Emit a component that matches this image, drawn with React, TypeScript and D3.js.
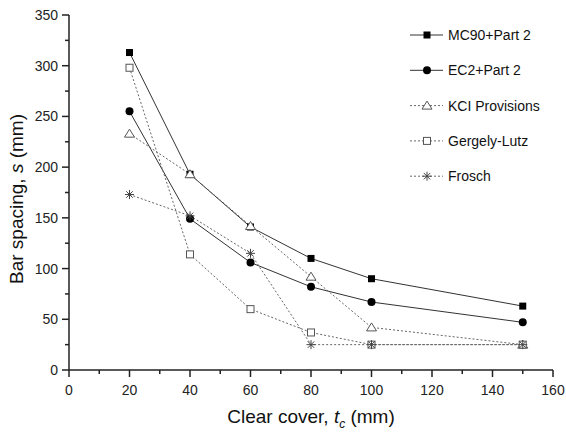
import React from "react";
import * as d3 from "d3";

const covers = [20, 40, 60, 80, 100, 150];
const mc90 = [313, 193, 141, 110, 90, 63];
const ec2 = [255, 149, 106, 82, 67, 47];
const kci = [233, 193, 142, 92, 42, 25];
const gergely = [298, 114, 60, 37, 25, 25];
const frosch = [173, 152, 115, 25, 25, 25];
const xTicks = [0, 20, 40, 60, 80, 100, 120, 140, 160];
const yTicks = [0, 50, 100, 150, 200, 250, 300, 350];

type Marker = "square" | "circle" | "triangle" | "squareOpen" | "star";

const series: { name: string; values: number[]; marker: Marker; dotted: boolean }[] = [
  { name: "MC90+Part 2", values: mc90, marker: "square", dotted: false },
  { name: "EC2+Part 2", values: ec2, marker: "circle", dotted: false },
  { name: "KCI Provisions", values: kci, marker: "triangle", dotted: true },
  { name: "Gergely-Lutz", values: gergely, marker: "squareOpen", dotted: true },
  { name: "Frosch", values: frosch, marker: "star", dotted: true },
];

const W = 566;
const H = 435;
const left = 69;
const right = 553;
const top = 15;
const bottom = 370;

const x = d3.scaleLinear().domain([0, 160]).range([left, right]);
const y = d3.scaleLinear().domain([0, 350]).range([bottom, top]);

function MarkerShape({ kind, cx, cy }: { kind: Marker; cx: number; cy: number }) {
  switch (kind) {
    case "square":
      return <rect x={cx - 3.5} y={cy - 3.5} width={7} height={7} fill="#000" />;
    case "circle":
      return <circle cx={cx} cy={cy} r={4} fill="#000" />;
    case "triangle":
      return (
        <path
          d={`M${cx},${cy - 4.5}L${cx + 5},${cy + 3.5}L${cx - 5},${cy + 3.5}Z`}
          fill="#fff"
          stroke="#555"
          strokeWidth={1}
        />
      );
    case "squareOpen":
      return (
        <rect x={cx - 3.5} y={cy - 3.5} width={7} height={7} fill="#fff" stroke="#555" strokeWidth={1} />
      );
    case "star": {
      const r = 4.5;
      const d = r * 0.72;
      return (
        <path
          d={`M${cx - r},${cy}L${cx + r},${cy}M${cx},${cy - r}L${cx},${cy + r}M${cx - d},${cy - d}L${cx + d},${cy + d}M${cx - d},${cy + d}L${cx + d},${cy - d}`}
          stroke="#444"
          strokeWidth={1}
        />
      );
    }
  }
}

export default function App() {
  const line = d3
    .line<number>()
    .x((_, i) => x(covers[i]))
    .y((v) => y(v));

  const minorX = d3.range(0, 161, 10);
  const minorY = d3.range(0, 351, 25);
  const font = "Liberation Sans, Arial, sans-serif";

  const legendTop = 35;
  const legendStep = 35.3;

  return (
    <svg
      width={W}
      height={H}
      style={{ position: "absolute", left: 0, top: 0, background: "#fff" }}
      fontFamily={font}
    >
      {/* series lines */}
      {series.map((s) => (
        <path
          key={s.name}
          d={line(s.values) || ""}
          fill="none"
          stroke={s.dotted ? "#666" : "#333"}
          strokeWidth={1}
          strokeDasharray={s.dotted ? "2,2" : undefined}
        />
      ))}
      {/* markers */}
      {series.map((s) =>
        s.values.map((v, i) => (
          <MarkerShape key={s.name + i} kind={s.marker} cx={x(covers[i])} cy={y(v)} />
        ))
      )}

      {/* axes */}
      <line x1={left} y1={top} x2={left} y2={bottom} stroke="#222" strokeWidth={1.5} />
      <line x1={left} y1={bottom} x2={right} y2={bottom} stroke="#222" strokeWidth={1.5} />
      {minorX.map((t) => (
        <line
          key={"mx" + t}
          x1={x(t)}
          x2={x(t)}
          y1={bottom}
          y2={bottom + (t % 20 === 0 ? 7 : 4)}
          stroke="#222"
          strokeWidth={1.5}
        />
      ))}
      {minorY.map((t) => (
        <line
          key={"my" + t}
          x1={left}
          x2={left - (t % 50 === 0 ? 7 : 4)}
          y1={y(t)}
          y2={y(t)}
          stroke="#222"
          strokeWidth={1.5}
        />
      ))}
      {xTicks.map((t) => (
        <text key={"xt" + t} x={x(t)} y={bottom + 25} textAnchor="middle" fontSize={14} fill="#222">
          {t}
        </text>
      ))}
      {yTicks.map((t) => (
        <text key={"yt" + t} x={left - 11} y={y(t) + 5} textAnchor="end" fontSize={14} fill="#222">
          {t}
        </text>
      ))}

      {/* axis titles */}
      <text x={311} y={423} textAnchor="middle" fontSize={19} fill="#111">
        Clear cover, <tspan fontStyle="italic">t</tspan>
        <tspan fontStyle="italic" fontSize={12} dy={5}>c</tspan>
        <tspan dy={-5}> (mm)</tspan>
      </text>
      <text
        transform={`translate(23,199) rotate(-90)`}
        textAnchor="middle"
        fontSize={19}
        fill="#111"
      >
        Bar spacing, <tspan fontStyle="italic">s</tspan> (mm)
      </text>

      {/* legend */}
      {series.map((s, i) => {
        const ly = legendTop + i * legendStep;
        return (
          <g key={"lg" + s.name}>
            <line
              x1={410}
              x2={443}
              y1={ly}
              y2={ly}
              stroke={s.dotted ? "#666" : "#333"}
              strokeWidth={1}
              strokeDasharray={s.dotted ? "2,2" : undefined}
            />
            <MarkerShape kind={s.marker} cx={427} cy={ly} />
            <text x={448} y={ly + 5} fontSize={14} fill="#111">
              {s.name}
            </text>
          </g>
        );
      })}
    </svg>
  );
}
